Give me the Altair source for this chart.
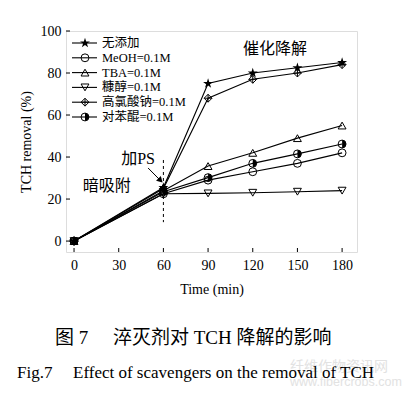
import altair as alt
import pandas as pd

# ---- data ----
times = [0, 60, 90, 120, 150, 180]
series_names = ["无添加", "MeOH=0.1M", "TBA=0.1M", "糠醇=0.1M", "高氯酸钠=0.1M", "对苯醌=0.1M"]
v_none = [0, 25.5, 75.0, 80.0, 82.5, 85.0]
v_meoh = [0, 22.5, 29.0, 33.0, 37.0, 42.0]
v_tba = [0, 24.0, 35.7, 42.0, 49.0, 55.0]
v_ffa = [0, 22.5, 22.7, 23.0, 23.5, 24.0]
v_naclo4 = [0, 25.0, 68.0, 77.0, 80.0, 84.0]
v_bq = [0, 23.5, 30.2, 37.0, 41.5, 46.2]
x_ticks = [0, 30, 60, 90, 120, 150, 180]
y_ticks = [0, 20, 40, 60, 80, 100]

all_vals = [v_none, v_meoh, v_tba, v_ffa, v_naclo4, v_bq]
rows = []
for name, vals in zip(series_names, all_vals):
    for t, v in zip(times, vals):
        rows.append({"series": name, "time": t, "value": v})
df = pd.DataFrame(rows)
leg_df = pd.DataFrame({"label": series_names, "row": list(range(len(series_names)))})

# ---- marker shapes ----
STAR = ("M0,-1L0.2245,-0.309L0.951,-0.309L0.363,0.118L0.588,0.809L0,0.382"
        "L-0.588,0.809L-0.363,0.118L-0.951,-0.309L-0.2245,-0.309Z")
DIAMOND_CROSS = "M0,-1L1,0L0,1L-1,0Z M-1,0L1,0 M0,-1L0,1"
HALF = "M0,-1A1,1 0 0,1 0,1Z"
open_shapes = {"MeOH=0.1M": "circle", "TBA=0.1M": "triangle-up",
               "糠醇=0.1M": "triangle-down", "高氯酸钠=0.1M": DIAMOND_CROSS,
               "对苯醌=0.1M": "circle"}
open_dom = list(open_shapes.keys())
open_rng = list(open_shapes.values())

W, H = 291, 221
SERIF = "Liberation Serif"
MIX = "Liberation Serif, Noto Sans CJK SC"

xs = alt.Scale(domain=[-5.4, 190], nice=False, zero=False)
ys = alt.Scale(domain=[-5.2, 100], nice=False, zero=False)

base = alt.Chart(df)
X = alt.X("time:Q", scale=xs, axis=alt.Axis(values=x_ticks, title="Time (min)", ticks=False,
          domain=False, grid=False, labelFont=SERIF, labelFontSize=14, labelColor="black",
          labelPadding=6, titleFont=SERIF, titleFontSize=14, titleFontWeight="normal",
          titleColor="black", titlePadding=10))
Y = alt.Y("value:Q", scale=ys, axis=alt.Axis(values=y_ticks, title="TCH removal (%)", ticks=False,
          domain=False, grid=False, labelFont=SERIF, labelFontSize=14, labelColor="black",
          labelPadding=5, titleFont=SERIF, titleFontSize=14, titleFontWeight="normal",
          titleColor="black", titlePadding=7))

lines = base.mark_line(color="black", strokeWidth=1.1).encode(x=X, y=Y, detail="series:N")
open_pts = base.transform_filter(alt.FieldOneOfPredicate(field="series", oneOf=open_dom)).mark_point(
    filled=False, stroke="black", strokeWidth=1, size=62, opacity=1).encode(
    x="time:Q", y="value:Q",
    shape=alt.Shape("series:N", scale=alt.Scale(domain=open_dom, range=open_rng), legend=None))
star_pts = base.transform_filter(alt.datum.series == "无添加").mark_point(
    filled=True, color="black", shape=STAR, size=110, opacity=1).encode(x="time:Q", y="value:Q")
half_pts = base.transform_filter(alt.datum.series == "对苯醌=0.1M").mark_point(
    filled=True, color="black", shape=HALF, size=62, opacity=1).encode(x="time:Q", y="value:Q")

# inward ticks
xt = alt.Chart(pd.DataFrame({"t": x_ticks})).mark_rule(color="black", strokeWidth=1).encode(
    x=alt.X("t:Q", scale=xs), y=alt.value(H), y2=alt.value(H - 4))
yt = alt.Chart(pd.DataFrame({"t": y_ticks})).mark_rule(color="black", strokeWidth=1).encode(
    y=alt.Y("t:Q", scale=ys), x=alt.value(0), x2=alt.value(4))

# annotations
vline = alt.Chart(pd.DataFrame({"a": [0]})).mark_rule(color="black", strokeDash=[3, 3], strokeWidth=1).encode(
    x=alt.datum(60, scale=xs), y=alt.datum(38.6), y2=alt.datum(9))
arrow = alt.Chart(pd.DataFrame({"a": [0]})).mark_rule(color="black", strokeWidth=1).encode(
    x=alt.datum(49.7), y=alt.datum(34.8), x2=alt.datum(57.5), y2=alt.datum(29.2))
head = alt.Chart(pd.DataFrame({"a": [0]})).mark_point(shape="triangle", filled=True, color="black",
    size=45, angle=135, opacity=1).encode(x=alt.datum(57.6), y=alt.datum(29.2))
t1 = alt.Chart(pd.DataFrame({"a": [0]})).mark_text(text="催化降解", font="Noto Sans CJK SC",
    fontSize=16, color="black").encode(x=alt.datum(135), y=alt.datum(91.5))
t2 = alt.Chart(pd.DataFrame({"a": [0]})).mark_text(text="加PS", font=MIX, fontSize=16,
    color="black").encode(x=alt.datum(43), y=alt.datum(39.3))
t3 = alt.Chart(pd.DataFrame({"a": [0]})).mark_text(text="暗吸附", font="Noto Sans CJK SC",
    fontSize=16, color="black").encode(x=alt.datum(22), y=alt.datum(26))

main = alt.layer(lines, open_pts, star_pts, half_pts, xt, yt, vline, arrow, head, t1, t2, t3)

# legend (manual)
ly = alt.Y("row:Q", scale=alt.Scale(domain=[0, 5], range=[12, 86]), axis=None)
lb = alt.Chart(leg_df)
l_rule = lb.mark_rule(color="black", strokeWidth=1.1).encode(y=ly, x=alt.value(6), x2=alt.value(31))
l_open = lb.transform_filter(alt.FieldOneOfPredicate(field="label", oneOf=open_dom)).mark_point(
    filled=False, stroke="black", strokeWidth=1, size=62, opacity=1).encode(
    y=ly, x=alt.value(19),
    shape=alt.Shape("label:N", scale=alt.Scale(domain=open_dom, range=open_rng), legend=None))
l_star = lb.transform_filter(alt.datum.label == "无添加").mark_point(
    filled=True, color="black", shape=STAR, size=110, opacity=1).encode(y=ly, x=alt.value(19))
l_half = lb.transform_filter(alt.datum.label == "对苯醌=0.1M").mark_point(
    filled=True, color="black", shape=HALF, size=62, opacity=1).encode(y=ly, x=alt.value(19))
l_text = lb.mark_text(align="left", baseline="middle", font=MIX, fontSize=12.5, color="black").encode(
    y=ly, x=alt.value(36), text="label:N")
legend = alt.layer(l_rule, l_open, l_star, l_half, l_text)

# captions below the chart
def cap(text, x, y, size, font, color="black"):
    return alt.Chart(pd.DataFrame({"a": [0]})).mark_text(
        text=text, align="left", baseline="middle", font=font, fontSize=size, color=color).encode(
        x=alt.value(x), y=alt.value(y))

c1 = cap("图 7", -11, 307, 19, MIX)
c2 = cap("淬灭剂对 TCH 降解的影响", 47, 307, 19, MIX)
c3 = cap("Fig.7", -49, 342, 17, SERIF)
c4 = cap("Effect of scavengers on the removal of TCH", 7, 342, 17, SERIF)
w1 = cap("纤维作物资讯网", 224, 336, 14, "Noto Sans CJK SC", "#e2e2e2")
w2 = cap("www.fibercrops.com", 224, 351, 12.5, "Liberation Sans", "#e2e2e2")
captions = alt.layer(w1, w2, c1, c2, c3, c4)

chart = alt.layer(main, legend, captions).resolve_scale(y="independent").properties(
    width=W, height=H,
    autosize=alt.AutoSizeParams(type="none"),
    padding={"left": 58, "top": 23, "right": 49, "bottom": 134},
).configure_view(stroke="black", strokeWidth=1.2).configure(background="white")

chart.save("out.html", embed_options={"renderer": "svg", "actions": False})
